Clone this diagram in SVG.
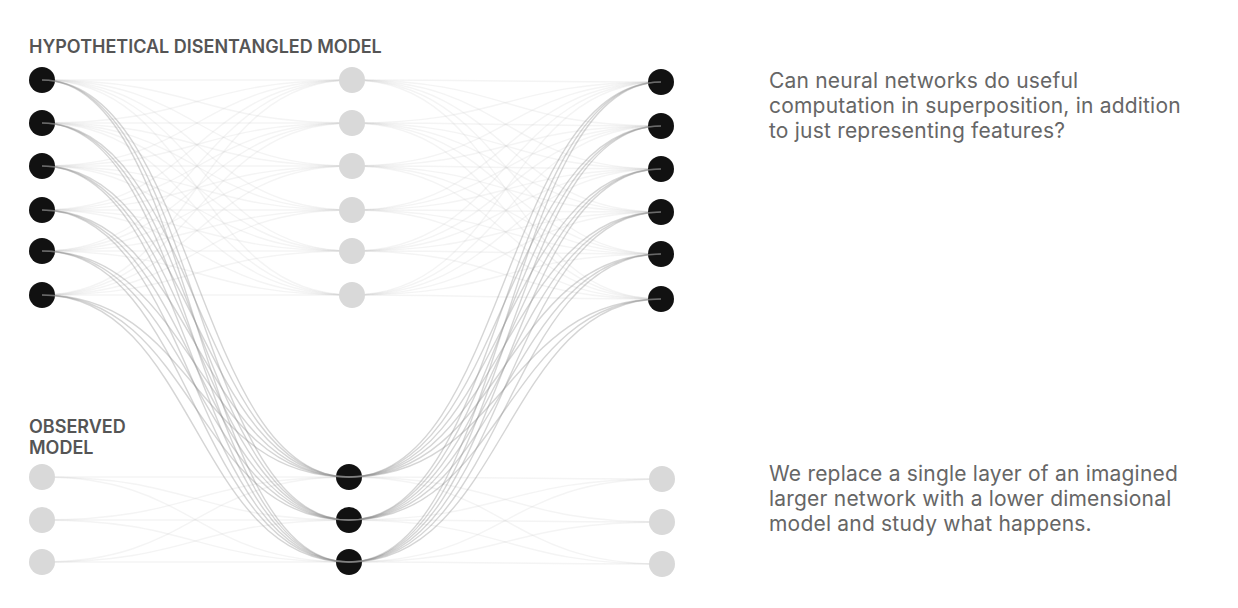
<svg xmlns="http://www.w3.org/2000/svg" width="1238" height="608" viewBox="0 0 1238 608">
<style>
.bg{fill:#ffffff}
.blk{fill:#111111}
.gry{fill:#d9d9d9}
.faint path{fill:none;stroke:#c8c8c8;stroke-opacity:0.2;stroke-width:1.4}
.strong path{fill:none;stroke:#8a8a8a;stroke-opacity:0.36;stroke-width:1.4}
.hd{font-family:Inter,"Liberation Sans",sans-serif;font-weight:600;font-size:18px;fill:#555555}
.bd{font-family:Inter,"Liberation Sans",sans-serif;font-weight:400;font-size:21px;letter-spacing:0.2px;fill:#666666}
</style>
<rect class="bg" x="0" y="0" width="1238" height="608"/>
<g id="labels">
<text class="hd" x="29" y="53">HYPOTHETICAL DISENTANGLED MODEL</text>
<text class="hd" x="29" y="433">OBSERVED</text>
<text class="hd" x="29" y="454">MODEL</text>
<text class="bd" x="769" y="88">Can neural networks do useful</text>
<text class="bd" x="769" y="113">computation in superposition, in addition</text>
<text class="bd" x="769" y="138">to just representing features?</text>
<text class="bd" x="769" y="481">We replace a single layer of an imagined</text>
<text class="bd" x="769" y="506">larger network with a lower dimensional</text>
<text class="bd" x="769" y="531">model and study what happens.</text>
</g>
<g id="connectors">
<g class="faint">
<path d="M42 80C197 80 197 80 352 80"/><path d="M42 80C197 80 197 123 352 123"/><path d="M42 80C197 80 197 166 352 166"/><path d="M42 80C197 80 197 210 352 210"/><path d="M42 80C197 80 197 251 352 251"/><path d="M42 80C197 80 197 295 352 295"/>
<path d="M42 123C197 123 197 80 352 80"/><path d="M42 123C197 123 197 123 352 123"/><path d="M42 123C197 123 197 166 352 166"/><path d="M42 123C197 123 197 210 352 210"/><path d="M42 123C197 123 197 251 352 251"/><path d="M42 123C197 123 197 295 352 295"/>
<path d="M42 166C197 166 197 80 352 80"/><path d="M42 166C197 166 197 123 352 123"/><path d="M42 166C197 166 197 166 352 166"/><path d="M42 166C197 166 197 210 352 210"/><path d="M42 166C197 166 197 251 352 251"/><path d="M42 166C197 166 197 295 352 295"/>
<path d="M42 210C197 210 197 80 352 80"/><path d="M42 210C197 210 197 123 352 123"/><path d="M42 210C197 210 197 166 352 166"/><path d="M42 210C197 210 197 210 352 210"/><path d="M42 210C197 210 197 251 352 251"/><path d="M42 210C197 210 197 295 352 295"/>
<path d="M42 251C197 251 197 80 352 80"/><path d="M42 251C197 251 197 123 352 123"/><path d="M42 251C197 251 197 166 352 166"/><path d="M42 251C197 251 197 210 352 210"/><path d="M42 251C197 251 197 251 352 251"/><path d="M42 251C197 251 197 295 352 295"/>
<path d="M42 295C197 295 197 80 352 80"/><path d="M42 295C197 295 197 123 352 123"/><path d="M42 295C197 295 197 166 352 166"/><path d="M42 295C197 295 197 210 352 210"/><path d="M42 295C197 295 197 251 352 251"/><path d="M42 295C197 295 197 295 352 295"/>
<path d="M352 80C506 80 506 82 661 82"/><path d="M352 80C506 80 506 126 661 126"/><path d="M352 80C506 80 506 169 661 169"/><path d="M352 80C506 80 506 212 661 212"/><path d="M352 80C506 80 506 254 661 254"/><path d="M352 80C506 80 506 299 661 299"/>
<path d="M352 123C506 123 506 82 661 82"/><path d="M352 123C506 123 506 126 661 126"/><path d="M352 123C506 123 506 169 661 169"/><path d="M352 123C506 123 506 212 661 212"/><path d="M352 123C506 123 506 254 661 254"/><path d="M352 123C506 123 506 299 661 299"/>
<path d="M352 166C506 166 506 82 661 82"/><path d="M352 166C506 166 506 126 661 126"/><path d="M352 166C506 166 506 169 661 169"/><path d="M352 166C506 166 506 212 661 212"/><path d="M352 166C506 166 506 254 661 254"/><path d="M352 166C506 166 506 299 661 299"/>
<path d="M352 210C506 210 506 82 661 82"/><path d="M352 210C506 210 506 126 661 126"/><path d="M352 210C506 210 506 169 661 169"/><path d="M352 210C506 210 506 212 661 212"/><path d="M352 210C506 210 506 254 661 254"/><path d="M352 210C506 210 506 299 661 299"/>
<path d="M352 251C506 251 506 82 661 82"/><path d="M352 251C506 251 506 126 661 126"/><path d="M352 251C506 251 506 169 661 169"/><path d="M352 251C506 251 506 212 661 212"/><path d="M352 251C506 251 506 254 661 254"/><path d="M352 251C506 251 506 299 661 299"/>
<path d="M352 295C506 295 506 82 661 82"/><path d="M352 295C506 295 506 126 661 126"/><path d="M352 295C506 295 506 169 661 169"/><path d="M352 295C506 295 506 212 661 212"/><path d="M352 295C506 295 506 254 661 254"/><path d="M352 295C506 295 506 299 661 299"/>
<path d="M42 477C195 477 195 477 349 477"/><path d="M42 477C195 477 195 520 349 520"/><path d="M42 477C195 477 195 562 349 562"/>
<path d="M42 520C195 520 195 477 349 477"/><path d="M42 520C195 520 195 520 349 520"/><path d="M42 520C195 520 195 562 349 562"/>
<path d="M42 562C195 562 195 477 349 477"/><path d="M42 562C195 562 195 520 349 520"/><path d="M42 562C195 562 195 562 349 562"/>
<path d="M349 477C505 477 505 479 662 479"/><path d="M349 477C505 477 505 522 662 522"/><path d="M349 477C505 477 505 564 662 564"/>
<path d="M349 520C505 520 505 479 662 479"/><path d="M349 520C505 520 505 522 662 522"/><path d="M349 520C505 520 505 564 662 564"/>
<path d="M349 562C505 562 505 479 662 479"/><path d="M349 562C505 562 505 522 662 522"/><path d="M349 562C505 562 505 564 662 564"/>
</g>
</g>
<g id="n-top-left">
<circle id="tl1" class="blk" cx="42" cy="80" r="13"/>
<circle id="tl2" class="blk" cx="42" cy="123" r="13"/>
<circle id="tl3" class="blk" cx="42" cy="166" r="13"/>
<circle id="tl4" class="blk" cx="42" cy="210" r="13"/>
<circle id="tl5" class="blk" cx="42" cy="251" r="13"/>
<circle id="tl6" class="blk" cx="42" cy="295" r="13"/>
</g>
<g id="n-top-mid">
<circle id="tm1" class="gry" cx="352" cy="80" r="13"/>
<circle id="tm2" class="gry" cx="352" cy="123" r="13"/>
<circle id="tm3" class="gry" cx="352" cy="166" r="13"/>
<circle id="tm4" class="gry" cx="352" cy="210" r="13"/>
<circle id="tm5" class="gry" cx="352" cy="251" r="13"/>
<circle id="tm6" class="gry" cx="352" cy="295" r="13"/>
</g>
<g id="n-top-right">
<circle id="tr1" class="blk" cx="661" cy="82" r="13"/>
<circle id="tr2" class="blk" cx="661" cy="126" r="13"/>
<circle id="tr3" class="blk" cx="661" cy="169" r="13"/>
<circle id="tr4" class="blk" cx="661" cy="212" r="13"/>
<circle id="tr5" class="blk" cx="661" cy="254" r="13"/>
<circle id="tr6" class="blk" cx="661" cy="299" r="13"/>
</g>
<g id="n-bot-left">
<circle id="bl1" class="gry" cx="42" cy="477" r="13"/>
<circle id="bl2" class="gry" cx="42" cy="520" r="13"/>
<circle id="bl3" class="gry" cx="42" cy="562" r="13"/>
</g>
<g id="n-bot-mid">
<circle id="bm1" class="blk" cx="349" cy="477" r="13"/>
<circle id="bm2" class="blk" cx="349" cy="520" r="13"/>
<circle id="bm3" class="blk" cx="349" cy="562" r="13"/>
</g>
<g id="n-bot-right">
<circle id="br1" class="gry" cx="662" cy="479" r="13"/>
<circle id="br2" class="gry" cx="662" cy="522" r="13"/>
<circle id="br3" class="gry" cx="662" cy="564" r="13"/>
</g>
<g id="connectors-strong" class="strong">
<path d="M42 80C195 80 195 477 349 477"/><path d="M42 80C195 80 195 520 349 520"/><path d="M42 80C195 80 195 562 349 562"/>
<path d="M42 123C195 123 195 477 349 477"/><path d="M42 123C195 123 195 520 349 520"/><path d="M42 123C195 123 195 562 349 562"/>
<path d="M42 166C195 166 195 477 349 477"/><path d="M42 166C195 166 195 520 349 520"/><path d="M42 166C195 166 195 562 349 562"/>
<path d="M42 210C195 210 195 477 349 477"/><path d="M42 210C195 210 195 520 349 520"/><path d="M42 210C195 210 195 562 349 562"/>
<path d="M42 251C195 251 195 477 349 477"/><path d="M42 251C195 251 195 520 349 520"/><path d="M42 251C195 251 195 562 349 562"/>
<path d="M42 295C195 295 195 477 349 477"/><path d="M42 295C195 295 195 520 349 520"/><path d="M42 295C195 295 195 562 349 562"/>
<path d="M349 477C505 477 505 82 661 82"/><path d="M349 477C505 477 505 126 661 126"/><path d="M349 477C505 477 505 169 661 169"/><path d="M349 477C505 477 505 212 661 212"/><path d="M349 477C505 477 505 254 661 254"/><path d="M349 477C505 477 505 299 661 299"/>
<path d="M349 520C505 520 505 82 661 82"/><path d="M349 520C505 520 505 126 661 126"/><path d="M349 520C505 520 505 169 661 169"/><path d="M349 520C505 520 505 212 661 212"/><path d="M349 520C505 520 505 254 661 254"/><path d="M349 520C505 520 505 299 661 299"/>
<path d="M349 562C505 562 505 82 661 82"/><path d="M349 562C505 562 505 126 661 126"/><path d="M349 562C505 562 505 169 661 169"/><path d="M349 562C505 562 505 212 661 212"/><path d="M349 562C505 562 505 254 661 254"/><path d="M349 562C505 562 505 299 661 299"/>
</g>
</svg>
